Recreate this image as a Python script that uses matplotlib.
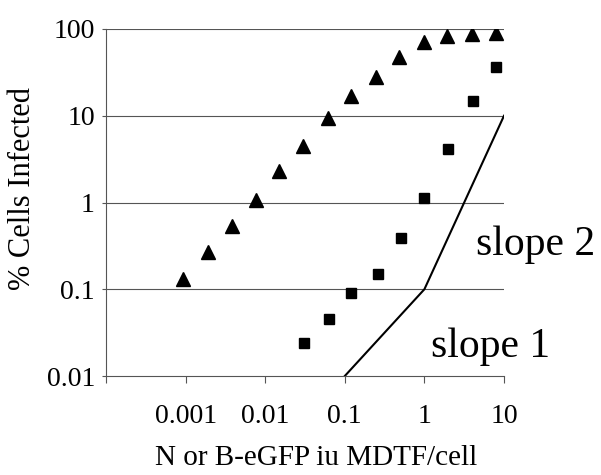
import matplotlib
matplotlib.use('Agg')
import matplotlib.pyplot as plt
from matplotlib.ticker import FixedLocator, NullLocator

plt.rcParams['font.family'] = ['Liberation Serif', 'DejaVu Serif']

# triangles (upper series)
tri_x = [0.00093, 0.0019, 0.0038, 0.0076, 0.0148, 0.030, 0.062, 0.12, 0.25, 0.48, 1.0, 1.9, 4.0, 7.9]
tri_y = [0.13, 0.27, 0.53, 1.08, 2.3, 4.5, 9.5, 17, 28, 48, 71, 83, 88, 90]
# squares (lower series)
sq_x = [0.031, 0.063, 0.12, 0.26, 0.51, 1.0, 2.0, 4.1, 8.0]
sq_y = [0.024, 0.046, 0.09, 0.15, 0.385, 1.14, 4.1, 14.9, 36]
# reference slope line
ref_x = [0.1, 1, 10]
ref_y = [0.01, 0.1, 10]

xticks = [0.0001, 0.001, 0.01, 0.1, 1, 10]
xlabels = ['', '0.001', '0.01', '0.1', '1', '10']
yticks = [0.01, 0.1, 1, 10, 100]
ylabels = ['0.01', '0.1', '1', '10', '100']

fig = plt.figure(figsize=(6.01, 4.75), dpi=100)
ax = fig.add_axes([106/601, 1-376/475, (504-106)/601, (376-29)/475])
ax.set_xscale('log')
ax.set_yscale('log')
ax.set_xlim(0.0001, 10)
ax.set_ylim(0.01, 100)

for y in yticks[1:]:
    ax.axhline(y, color='#555555', lw=0.8, zorder=1)
ax.plot(ref_x, ref_y, color='black', lw=1.5, zorder=2)
ax.plot(tri_x, tri_y, '^', color='black', ms=10, ls='none', zorder=3)
ax.plot(sq_x, sq_y, 's', color='black', ms=7, ls='none', zorder=3)

ax.xaxis.set_major_locator(FixedLocator(xticks))
ax.set_xticklabels(xlabels)
ax.xaxis.set_minor_locator(NullLocator())
ax.yaxis.set_major_locator(FixedLocator(yticks))
ax.set_yticklabels(ylabels)
ax.yaxis.set_minor_locator(NullLocator())
ax.tick_params(axis='x', length=5, width=0.8, color='#555555', pad=15, labelsize=20)
ax.tick_params(axis='y', length=3, width=0.8, color='#555555', pad=5, labelsize=20)

for s in ['top', 'right']:
    ax.spines[s].set_visible(False)
for s in ['left', 'bottom']:
    ax.spines[s].set_color('#555555')
    ax.spines[s].set_linewidth(0.8)

ax.text(4.4, 0.33, 'slope 2', fontsize=30, va='center', ha='left', clip_on=False)
ax.text(1.22, 0.022, 'slope 1', fontsize=30, va='center', ha='left', clip_on=False)

ax.set_xlabel('N or B-eGFP iu MDTF/cell', fontsize=21)
ax.xaxis.set_label_coords(0.528, -0.237)
ax.xaxis.label.set_va('center')
ax.set_ylabel('% Cells Infected', fontsize=22)
ax.yaxis.set_label_coords(-0.209, 0.539)
ax.yaxis.label.set_va('center')

fig.savefig('out.png', dpi=100)
